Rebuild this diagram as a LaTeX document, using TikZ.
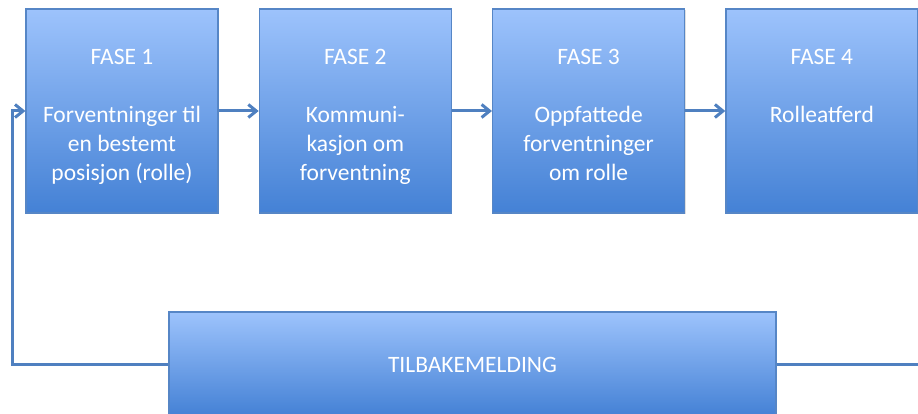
\documentclass[tikz,border=0pt]{standalone}
\usepackage{fontspec}
\setmainfont{Carlito}
\usetikzlibrary{arrows.meta,positioning,shadows}
\definecolor{fasetop}{HTML}{9DC3FC}
\definecolor{fasebot}{HTML}{4481D5}
\definecolor{faseline}{HTML}{5686C6}
\definecolor{flowline}{HTML}{4F80C0}

\begin{document}
\begin{tikzpicture}[->,>={Straight Barb[length=8pt,width=13pt]},x=1pt,y=1pt,
                    node distance=233.3pt,line width=3pt,draw=flowline]
	\tikzstyle{fase}=[draw=faseline,line width=1.2pt,top color=fasetop,bottom color=fasebot,
	                  minimum width=192pt,minimum height=204pt,inner sep=0pt,
	                  drop shadow={shadow xshift=1pt,shadow yshift=-1.5pt,opacity=0.25}]
	\tikzstyle{fasetext}=[text=white,font=\fontsize{23.5}{29}\selectfont,align=center,
	                      anchor=north,inner sep=0pt]

	\useasboundingbox (0,0) rectangle (918,-414);

	% the four phases
	\node[fase]		(F1)	at (122,-111)	{};
	\node[fase]		(F2)	[right of=F1]	{};
	\node[fase]		(F3)	[right of=F2]	{};
	\node[fase]		(F4)	[right of=F3]	{};
	\node[fase,minimum width=607pt,minimum height=104pt]	(TB)	at (472.5,-364)	{};

	\node[fasetext]	(T1)	at (F1.center |- 0,-48)	{FASE 1\\[29pt]Forventninger til\\en bestemt\\posisjon (rolle)};
	\node[fasetext]	(T2)	at (F2.center |- 0,-48)	{FASE 2\\[29pt]Kommuni-\\kasjon om\\forventning};
	\node[fasetext]	(T3)	at (F3.center |- 0,-48)	{FASE 3\\[29pt]Oppfattede\\forventninger\\om rolle};
	\node[fasetext]	(T4)	at (F4.center |- 0,-48)	{FASE 4\\[29pt]Rolleatferd};
	\node[fasetext,anchor=base]	(TT)	at (TB.center |- 0,-372)	{TILBAKEMELDING};

	\path (F1)	edge	(F2)
	      (F2)	edge	(F3)
	      (F3)	edge	(F4);

	% feedback loop
	\coordinate (R) at (925,-364);
	\coordinate (L) at (12,-240);
	\draw[-] (R) -- (TB.east);
	\draw (TB.west) -| (L) |- (F1.west);
\end{tikzpicture}
\end{document}
